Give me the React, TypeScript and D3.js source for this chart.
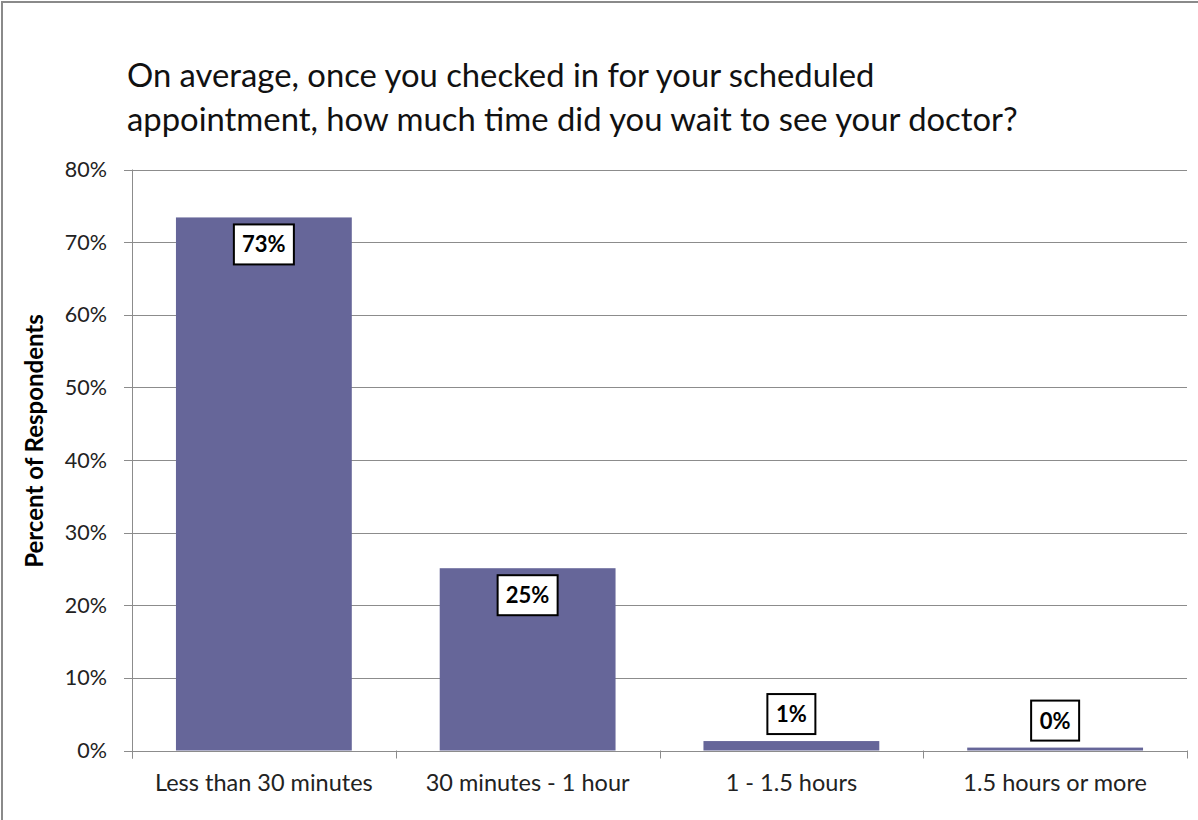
import React from "react";
import * as d3 from "d3";

const categories = ["Less than 30 minutes", "30 minutes - 1 hour", "1 - 1.5 hours", "1.5 hours or more"];
const values = [73.4, 25.1, 1.3, 0.4];
const yTicks = [0, 10, 20, 30, 40, 50, 60, 70, 80];
const titleLines = [
  "On average, once you checked in for your scheduled",
  "appointment, how much time did you wait to see your doctor?",
];
const yAxisTitle = "Percent of Respondents";

const W = 1198;
const H = 820;
const plot = { left: 132, right: 1187, top: 169.5, bottom: 750.5 };
const FONT = "Lato, 'Open Sans', sans-serif";
const GRID = "#8c8c8c";
const BAR = "#666699";

export default function App() {
  const x = d3
    .scaleBand<string>()
    .domain(categories)
    .range([plot.left, plot.right])
    .paddingInner(1 / 3)
    .paddingOuter(1 / 6);
  const y = d3.scaleLinear().domain([0, 80]).range([plot.bottom, plot.top]);
  const step = x.step();
  const boundaries = d3.range(categories.length + 1).map((i) => plot.left + i * step);

  return (
    <svg
      width={W}
      height={H}
      style={{ position: "absolute", left: 0, top: 0, background: "#fff" }}
      fontFamily={FONT}
    >
      <rect x={0} y={0} width={W} height={H} fill="#fff" />
      <rect x={2} y={2} width={W + 20} height={H + 20} fill="none" stroke="#8a8a8a" strokeWidth={2} />

      {titleLines.map((t, i) => (
        <text key={i} x={127} y={87 + i * 44} fontSize={32.8} fill="#111">
          {t}
        </text>
      ))}

      {/* gridlines */}
      {yTicks.map((t) => (
        <line
          key={t}
          x1={plot.left - 8}
          x2={plot.right}
          y1={Math.round(y(t)) + 0.5}
          y2={Math.round(y(t)) + 0.5}
          stroke={GRID}
          strokeWidth={1}
        />
      ))}
      {/* y axis line */}
      <line x1={plot.left + 0.5} x2={plot.left + 0.5} y1={plot.top} y2={plot.bottom + 8} stroke={GRID} strokeWidth={1} />
      {/* x ticks */}
      {boundaries.map((b, i) => (
        <line
          key={i}
          x1={Math.round(b) + 0.5}
          x2={Math.round(b) + 0.5}
          y1={plot.bottom}
          y2={plot.bottom + 8}
          stroke={GRID}
          strokeWidth={1}
        />
      ))}

      {/* y tick labels */}
      {yTicks.map((t) => (
        <text key={t} x={107} y={y(t)} dy="0.35em" textAnchor="end" fontSize={21.5} fill="#222">
          {t + "%"}
        </text>
      ))}

      {/* bars */}
      {categories.map((c, i) => (
        <rect
          key={c}
          x={x(c)}
          y={y(values[i])}
          width={x.bandwidth()}
          height={plot.bottom - y(values[i])}
          fill={BAR}
        />
      ))}

      {/* data labels */}
      {categories.map((c, i) => {
        const v = values[i];
        const label = Math.round(v) + "%";
        const cx = (x(c) as number) + x.bandwidth() / 2;
        const bw = label.length === 3 ? 60 : 48;
        const bh = 40;
        const top = v > 5 ? y(v) + 7 : y(v) - 7 - bh;
        return (
          <g key={c}>
            <rect x={cx - bw / 2} y={top} width={bw} height={bh} fill="#fff" stroke="#000" strokeWidth={2} />
            <text x={cx} y={top + bh / 2} dy="0.36em" textAnchor="middle" fontSize={22} fontWeight="bold" fill="#000">
              {label}
            </text>
          </g>
        );
      })}

      {/* category labels */}
      {categories.map((c) => (
        <text
          key={c}
          x={(x(c) as number) + x.bandwidth() / 2}
          y={791}
          textAnchor="middle"
          fontSize={23.5}
          fill="#222"
        >
          {c}
        </text>
      ))}

      {/* y axis title */}
      <text
        transform={`translate(43, ${441}) rotate(-90)`}
        textAnchor="middle"
        fontSize={24}
        fontWeight="bold"
        fill="#000"
      >
        {yAxisTitle}
      </text>
    </svg>
  );
}
